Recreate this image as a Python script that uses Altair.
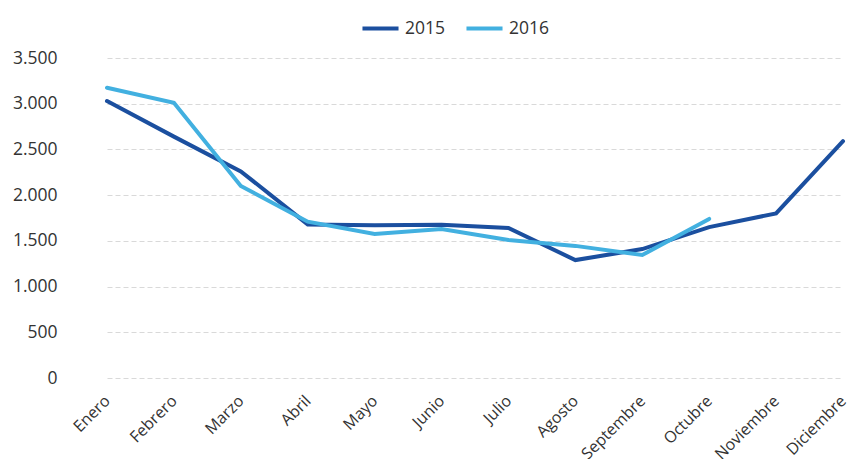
import altair as alt
import pandas as pd

months = ["Enero", "Febrero", "Marzo", "Abril", "Mayo", "Junio", "Julio",
          "Agosto", "Septembre", "Octubre", "Noviembre", "Diciembre"]
v2015 = [3030, 2640, 2260, 1680, 1670, 1675, 1640, 1290, 1410, 1650, 1800, 2590]
v2016 = [3175, 3010, 2100, 1710, 1575, 1630, 1510, 1445, 1345, 1740]
series = ["2015", "2016"]
colors = ["#1b4f9f", "#42b0e0"]
y_ticks = [0, 500, 1000, 1500, 2000, 2500, 3000, 3500]

rows = []
for m, v in zip(months, v2015):
    rows.append({"mes": m, "serie": "2015", "valor": v})
for m, v in zip(months, v2016):
    rows.append({"mes": m, "serie": "2016", "valor": v})
df = pd.DataFrame(rows)

FONT = "Open Sans"
TXT = "#333333"
FS = 17.5

chart = alt.Chart(df).mark_line(strokeWidth=4, strokeCap="round", strokeJoin="miter").encode(
    x=alt.X("mes:N", sort=months,
            scale=alt.Scale(range=[35, 771], padding=0),
            axis=alt.Axis(title=None, labelAngle=-45, labelAlign="right",
                          labelBaseline="middle", ticks=False, domain=False,
                          grid=False, labelPadding=20, labelFontSize=16,
                          labelFont=FONT, labelColor=TXT)),
    y=alt.Y("valor:Q", scale=alt.Scale(domain=[0, 3500], nice=False),
            axis=alt.Axis(title=None, values=y_ticks, ticks=False, domain=False,
                          labelExpr="replace(format(datum.value, ','), ',', '.')",
                          labelPadding=15, labelFontSize=FS, labelFont=FONT,
                          labelColor=TXT, gridColor="#d9d9d9", gridDash=[5, 3],
                          gridWidth=1)),
    color=alt.Color("serie:N",
                    scale=alt.Scale(domain=series, range=colors),
                    legend=alt.Legend(title=None, orient="none", direction="horizontal",
                                      legendX=288, legendY=-50, symbolType="stroke",
                                      symbolSize=1300, symbolStrokeWidth=4,
                                      labelFontSize=FS, labelFont=FONT, labelColor=TXT,
                                      labelOffset=4, columnPadding=12, padding=0)),
).properties(
    width=779, height=320,
    autosize=alt.AutoSizeParams(type="none"),
    padding={"left": 64, "top": 50, "right": 0, "bottom": 81},
).configure_view(stroke=None)

chart.save("out.html", embed_options={"renderer": "svg", "actions": False})
